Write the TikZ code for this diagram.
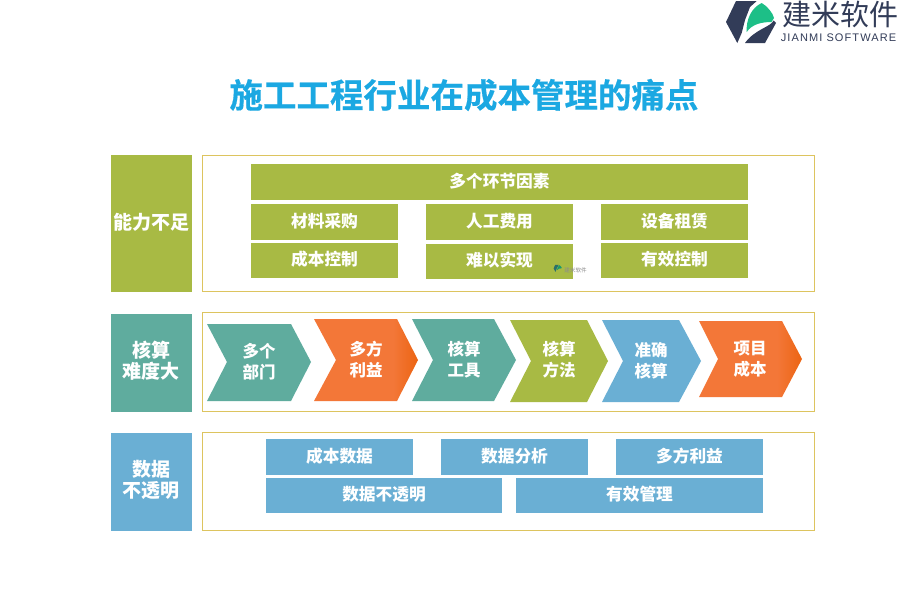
\documentclass[tikz,border=0pt]{standalone}
\usepackage{fontspec}
\setmainfont{Noto Sans CJK SC}
\newfontfamily\latinfont[LetterSpace=10]{Liberation Sans}
\newfontfamily\heavyfont[FakeBold=0.5]{Noto Sans CJK SC Bold}
\definecolor{grassc}{HTML}{A8BA44}
\definecolor{tealc}{HTML}{5FAC9E}
\definecolor{bluec}{HTML}{6AAFD4}
\definecolor{orangeA}{HTML}{F37738}
\definecolor{orangeB}{HTML}{EC6412}
\definecolor{goldc}{HTML}{DDC45F}
\definecolor{titlec}{HTML}{1BA8E2}
\definecolor{inkc}{HTML}{323C58}
\definecolor{leafc}{HTML}{1DBF87}
\pgfdeclarehorizontalshading{orangeshade}{100bp}{color(0bp)=(orangeA); color(25bp)=(orangeA); color(63bp)=(orangeA); color(75bp)=(orangeB); color(100bp)=(orangeB)}
\tikzset{
  panel/.style={draw=goldc, line width=1.1pt, fill=white},
  sidetext/.style={inner sep=0pt, align=center, text=white,
    font=\fontsize{19}{21}\selectfont\bfseries},
  grassbox/.style={fill=grassc, minimum width=147pt, minimum height=36pt, inner sep=0pt,
    text height=12pt, text depth=1.4pt, text=white, font=\fontsize{16.7}{20}\selectfont\bfseries},
  bluebox/.style={grassbox, fill=bluec},
  chevtext/.style={inner sep=0pt, align=center, text=white,
    font=\fontsize{16.5}{21}\selectfont\bfseries},
  orangechev/.style={shading=orangeshade}
}
\begin{document}
\begin{tikzpicture}[x=1pt, y=-1pt]
  \useasboundingbox (0,0) rectangle (900,600);
  \fill[white] (0,0) rectangle (900,600);
  % logo
  \fill[inkc] (726,22) -- (736,1) -- (756.7,1) -- (750,7) -- (745,20) -- (741.7,33) -- (737.3,43) -- cycle;
  \fill[inkc] (745,43) -- (765,43) -- (776,23) -- (773.5,20.5) .. controls (771,27) and (755,29) .. (745,43) -- cycle;
  \fill[leafc] (746.7,32) .. controls (746,20) and (751,8) .. (761.7,3)
    .. controls (767,6) and (773,13) .. (774,18) -- (771.5,22)
    .. controls (762,22) and (752,24) .. (746.7,32) -- cycle;
  \node[inner sep=0pt, text=inkc, font=\fontsize{29}{29}\selectfont] (brand) at (840,14) {建米软件};
  \node[inner sep=0pt, text=inkc, font=\latinfont\fontsize{11}{11}\selectfont] (brandsub) at (838.5,38) {JIANMI SOFTWARE};
  % title
  \node[inner sep=0pt, text=titlec, font=\heavyfont\fontsize{33.5}{34}\selectfont] (title) at (464,95) {施工工程行业在成本管理的痛点};
  % top row
  \draw[panel] (202.5,155.5) rectangle (814.5,291.5);
  \fill[grassc] (111,155) rectangle (192,292);
  \node[sidetext] (nengli) at (151,222) {能力不足};
  \node[grassbox, minimum width=497pt] (yinsu) at (499.5,182) {多个环节因素};
  \node[grassbox] (caigou) at (324.5,222) {材料采购};
  \node[grassbox] (rengong) at (499.5,222) {人工费用};
  \node[grassbox] (zulin) at (674.5,222) {设备租赁};
  \node[grassbox, minimum height=35pt] (kongzhi) at (324.5,260.5) {成本控制};
  \node[grassbox, minimum height=35pt] (shixian) at (499.5,261.5) {难以实现};
  \node[grassbox, minimum height=35pt] (youxiao) at (674.5,260.5) {有效控制};
  % small mark over the box corner
  \begin{scope}[shift={(553.6,264.6)}, scale=0.17, shift={(-726,0)}]
    \fill[inkc!60!leafc] (726,22) -- (736,1) -- (756.7,1) -- (745,20) -- (737.3,43) -- cycle;
    \fill[leafc!80!black] (746.7,32) .. controls (746,20) and (751,8) .. (761.7,3)
      .. controls (767,6) and (773,13) .. (774,18) -- (771.5,22)
      .. controls (762,22) and (752,24) .. (746.7,32) -- cycle;
  \end{scope}
  \node[inner sep=0pt, text=black!45, font=\fontsize{5.6}{6}\selectfont] (mark) at (575.5,270) {建米软件};
  % middle row
  \draw[panel] (202.5,312.5) rectangle (814.5,411.5);
  \fill[tealc] (111,314) rectangle (192,412);
  \node[sidetext] (hesuan) at (151,361) {核算\\难度大};
  \fill[tealc] (207,324) -- (291,324) -- (311,362) -- (291,401) -- (207,401) -- (227,362) -- cycle;
  \shade[orangechev] (314,319) -- (397,319) -- (418,360) -- (397,401) -- (314,401) -- (336,360) -- cycle;
  \fill[tealc] (412,319) -- (494,319) -- (516,360) -- (494,401) -- (412,401) -- (433,360) -- cycle;
  \fill[grassc] (510,320) -- (587,320) -- (608,361) -- (587,402) -- (510,402) -- (531,361) -- cycle;
  \fill[bluec] (602,320) -- (679,320) -- (701,361) -- (679,402) -- (602,402) -- (623,361) -- cycle;
  \shade[orangechev] (699,321) -- (782,321) -- (802,359) -- (782,397) -- (699,397) -- (718,359) -- cycle;
  \node[chevtext] (bumen) at (259,362) {多个\\部门};
  \node[chevtext] (liyi) at (366,360) {多方\\利益};
  \node[chevtext] (gongju) at (464,360) {核算\\工具};
  \node[chevtext] (fangfa) at (559,360) {核算\\方法};
  \node[chevtext] (zhunque) at (651,361) {准确\\核算};
  \node[chevtext] (xiangmu) at (750,359) {项目\\成本};
  % bottom row
  \draw[panel] (202.5,432.5) rectangle (814.5,530.5);
  \fill[bluec] (111,433) rectangle (192,531);
  \node[sidetext] (shuju) at (151,480) {数据\\不透明};
  \node[bluebox] (chengben) at (339.5,457) {成本数据};
  \node[bluebox] (fenxi) at (514.5,457) {数据分析};
  \node[bluebox] (lifang) at (689.5,457) {多方利益};
  \node[bluebox, minimum width=236pt, minimum height=35pt] (toming) at (384,495.5) {数据不透明};
  \node[bluebox, minimum width=247pt, minimum height=35pt] (guanli) at (639.5,495.5) {有效管理};
\end{tikzpicture}
\end{document}
